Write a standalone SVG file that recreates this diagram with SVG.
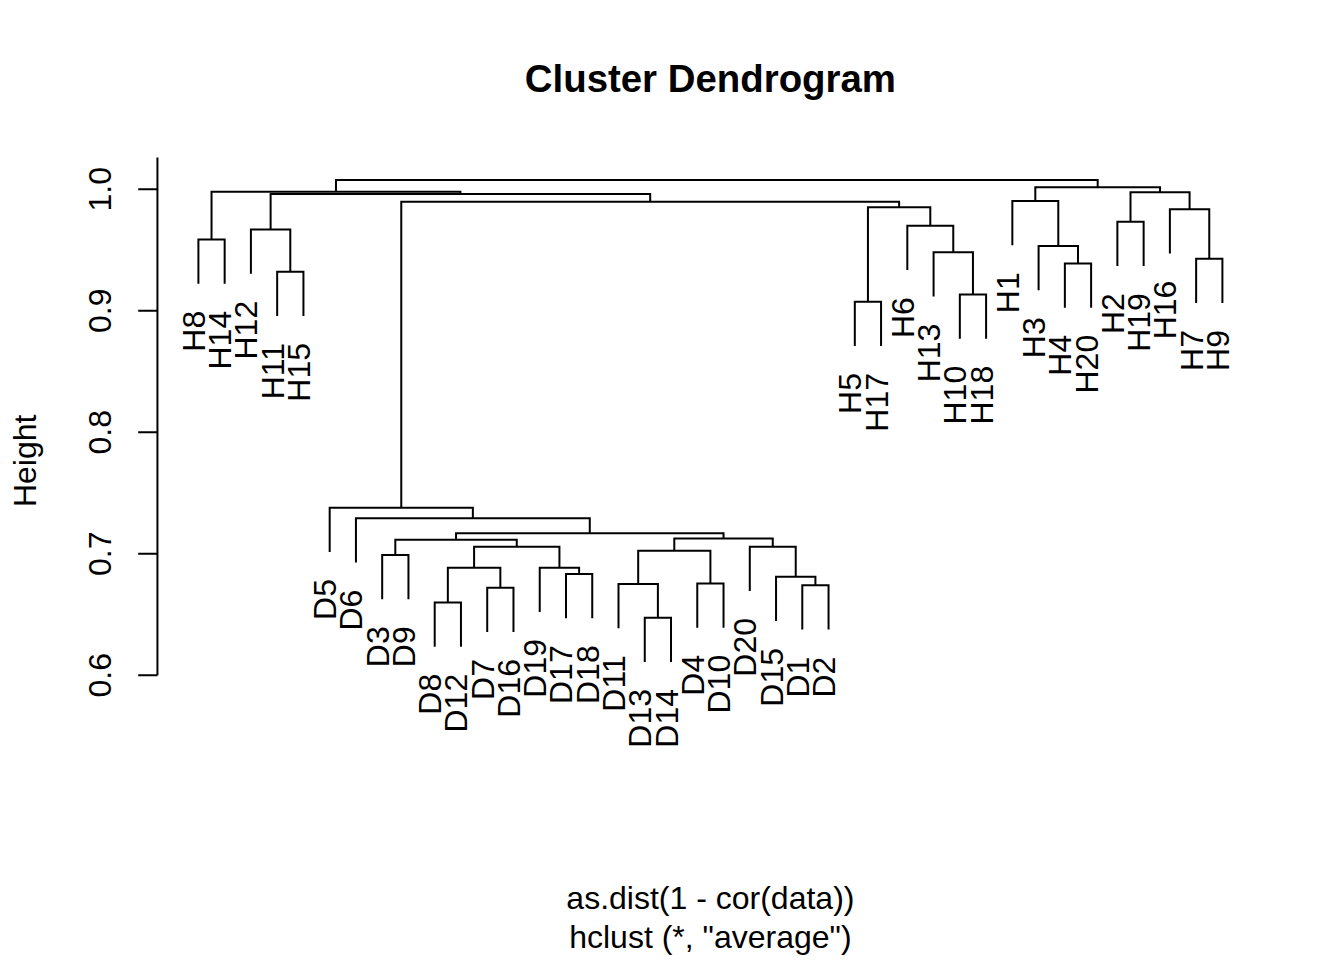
<svg xmlns="http://www.w3.org/2000/svg" width="1344" height="960" viewBox="0 0 1344 960">
<style>
.l{stroke:#000;stroke-width:2;fill:none;stroke-linecap:butt;stroke-linejoin:miter}
text{font-family:"Liberation Sans",Arial,sans-serif;font-size:32px;fill:#000}
.lab{text-anchor:end}
.tk{text-anchor:middle}
.title{font-size:38.4px;font-weight:bold;text-anchor:middle}
</style>
<rect width="1344" height="960" fill="#fff"/>
<text class="title" x="710.4" y="92">Cluster Dendrogram</text>
<g id="axis">
<path class="l" d="M157.44 157.4 V675.2 M138.2 189.2 H157.44 M138.2 310.7 H157.44 M138.2 432.2 H157.44 M138.2 553.7 H157.44 M138.2 675.2 H157.44"/>
<text class="tk" transform="translate(111.4,189.2) rotate(-90)">1.0</text>
<text class="tk" transform="translate(111.4,310.7) rotate(-90)">0.9</text>
<text class="tk" transform="translate(111.4,432.2) rotate(-90)">0.8</text>
<text class="tk" transform="translate(111.4,553.7) rotate(-90)">0.7</text>
<text class="tk" transform="translate(111.4,675.2) rotate(-90)">0.6</text>
<text class="tk" transform="translate(35.5,460.8) rotate(-90)">Height</text>
</g>
<text class="tk" x="710.4" y="908.5">as.dist(1 - cor(data))</text>
<text class="tk" x="710.4" y="947.5">hclust (*, "average")</text>
<g id="connectors">
<path class="l" d="M198.4 283.8 V239.5 H224.66 V283.8"/>
<path class="l" d="M277.17 316 V271.7 H303.43 V316"/>
<path class="l" d="M250.91 273.8 V229.5 H290.3 V271.7"/>
<path class="l" d="M211.53 239.5 V191.7 H460.4 V193.9"/>
<path class="l" d="M270.61 229.5 V193.9 H650.19 V201.7"/>
<path class="l" d="M401.27 507.7 V201.7 H899.12 V207.3"/>
<path class="l" d="M335.97 191.7 V180 H1097.68 V187.3"/>
<path class="l" d="M329.68 552 V507.7 H472.86 V518.3"/>
<path class="l" d="M355.94 562.6 V518.3 H589.78 V533.3"/>
<path class="l" d="M456.04 539.7 V533.3 H723.53 V538.5"/>
<path class="l" d="M395.32 555 V539.7 H516.76 V546.7"/>
<path class="l" d="M382.19 599.3 V555 H408.45 V599.3"/>
<path class="l" d="M474.1 567.7 V546.7 H559.43 V567.7"/>
<path class="l" d="M447.84 602.5 V567.7 H500.35 V587.7"/>
<path class="l" d="M434.71 646.8 V602.5 H460.96 V646.8"/>
<path class="l" d="M487.22 632 V587.7 H513.48 V632"/>
<path class="l" d="M539.73 612 V567.7 H579.12 V574"/>
<path class="l" d="M565.99 618.3 V574 H592.24 V618.3"/>
<path class="l" d="M674.3 550.7 V538.5 H772.76 V546.7"/>
<path class="l" d="M638.19 584 V550.7 H710.4 V583.5"/>
<path class="l" d="M618.5 628.3 V584 H657.89 V617.7"/>
<path class="l" d="M644.76 662 V617.7 H671.01 V662"/>
<path class="l" d="M697.27 627.8 V583.5 H723.53 V627.8"/>
<path class="l" d="M749.78 591 V546.7 H795.73 V576.7"/>
<path class="l" d="M776.04 621 V576.7 H815.42 V585.3"/>
<path class="l" d="M802.29 629.6 V585.3 H828.55 V629.6"/>
<path class="l" d="M867.94 301.7 V207.3 H930.3 V225.8"/>
<path class="l" d="M854.81 346 V301.7 H881.06 V346"/>
<path class="l" d="M907.32 270.1 V225.8 H953.27 V252.3"/>
<path class="l" d="M933.58 296.6 V252.3 H972.96 V294.5"/>
<path class="l" d="M959.83 338.8 V294.5 H986.09 V338.8"/>
<path class="l" d="M1035.32 201 V187.3 H1160.04 V192.3"/>
<path class="l" d="M1012.34 245.3 V201 H1058.29 V246"/>
<path class="l" d="M1038.6 290.3 V246 H1077.99 V263.5"/>
<path class="l" d="M1064.86 307.8 V263.5 H1091.11 V307.8"/>
<path class="l" d="M1130.5 221.8 V192.3 H1189.58 V209.3"/>
<path class="l" d="M1117.37 266.1 V221.8 H1143.63 V266.1"/>
<path class="l" d="M1169.88 253.6 V209.3 H1209.27 V258.7"/>
<path class="l" d="M1196.14 303 V258.7 H1222.4 V303"/>
</g>
<g id="leaf-H8"><text class="lab" transform="translate(204.9,310.8) rotate(-90)">H8</text></g>
<g id="leaf-H14"><text class="lab" transform="translate(231.16,310.8) rotate(-90)">H14</text></g>
<g id="leaf-H12"><text class="lab" transform="translate(257.41,300.8) rotate(-90)">H12</text></g>
<g id="leaf-H11"><text class="lab" transform="translate(283.67,343) rotate(-90)">H11</text></g>
<g id="leaf-H15"><text class="lab" transform="translate(309.93,343) rotate(-90)">H15</text></g>
<g id="leaf-D5"><text class="lab" transform="translate(336.18,579) rotate(-90)">D5</text></g>
<g id="leaf-D6"><text class="lab" transform="translate(362.44,589.6) rotate(-90)">D6</text></g>
<g id="leaf-D3"><text class="lab" transform="translate(388.69,626.3) rotate(-90)">D3</text></g>
<g id="leaf-D9"><text class="lab" transform="translate(414.95,626.3) rotate(-90)">D9</text></g>
<g id="leaf-D8"><text class="lab" transform="translate(441.21,673.8) rotate(-90)">D8</text></g>
<g id="leaf-D12"><text class="lab" transform="translate(467.46,673.8) rotate(-90)">D12</text></g>
<g id="leaf-D7"><text class="lab" transform="translate(493.72,659) rotate(-90)">D7</text></g>
<g id="leaf-D16"><text class="lab" transform="translate(519.98,659) rotate(-90)">D16</text></g>
<g id="leaf-D19"><text class="lab" transform="translate(546.23,639) rotate(-90)">D19</text></g>
<g id="leaf-D17"><text class="lab" transform="translate(572.49,645.3) rotate(-90)">D17</text></g>
<g id="leaf-D18"><text class="lab" transform="translate(598.74,645.3) rotate(-90)">D18</text></g>
<g id="leaf-D11"><text class="lab" transform="translate(625,655.3) rotate(-90)">D11</text></g>
<g id="leaf-D13"><text class="lab" transform="translate(651.26,689) rotate(-90)">D13</text></g>
<g id="leaf-D14"><text class="lab" transform="translate(677.51,689) rotate(-90)">D14</text></g>
<g id="leaf-D4"><text class="lab" transform="translate(703.77,654.8) rotate(-90)">D4</text></g>
<g id="leaf-D10"><text class="lab" transform="translate(730.03,654.8) rotate(-90)">D10</text></g>
<g id="leaf-D20"><text class="lab" transform="translate(756.28,618) rotate(-90)">D20</text></g>
<g id="leaf-D15"><text class="lab" transform="translate(782.54,648) rotate(-90)">D15</text></g>
<g id="leaf-D1"><text class="lab" transform="translate(808.79,656.6) rotate(-90)">D1</text></g>
<g id="leaf-D2"><text class="lab" transform="translate(835.05,656.6) rotate(-90)">D2</text></g>
<g id="leaf-H5"><text class="lab" transform="translate(861.31,373) rotate(-90)">H5</text></g>
<g id="leaf-H17"><text class="lab" transform="translate(887.56,373) rotate(-90)">H17</text></g>
<g id="leaf-H6"><text class="lab" transform="translate(913.82,297.1) rotate(-90)">H6</text></g>
<g id="leaf-H13"><text class="lab" transform="translate(940.08,323.6) rotate(-90)">H13</text></g>
<g id="leaf-H10"><text class="lab" transform="translate(966.33,365.8) rotate(-90)">H10</text></g>
<g id="leaf-H18"><text class="lab" transform="translate(992.59,365.8) rotate(-90)">H18</text></g>
<g id="leaf-H1"><text class="lab" transform="translate(1018.84,272.3) rotate(-90)">H1</text></g>
<g id="leaf-H3"><text class="lab" transform="translate(1045.1,317.3) rotate(-90)">H3</text></g>
<g id="leaf-H4"><text class="lab" transform="translate(1071.36,334.8) rotate(-90)">H4</text></g>
<g id="leaf-H20"><text class="lab" transform="translate(1097.61,334.8) rotate(-90)">H20</text></g>
<g id="leaf-H2"><text class="lab" transform="translate(1123.87,293.1) rotate(-90)">H2</text></g>
<g id="leaf-H19"><text class="lab" transform="translate(1150.13,293.1) rotate(-90)">H19</text></g>
<g id="leaf-H16"><text class="lab" transform="translate(1176.38,280.6) rotate(-90)">H16</text></g>
<g id="leaf-H7"><text class="lab" transform="translate(1202.64,330) rotate(-90)">H7</text></g>
<g id="leaf-H9"><text class="lab" transform="translate(1228.9,330) rotate(-90)">H9</text></g>
</svg>
